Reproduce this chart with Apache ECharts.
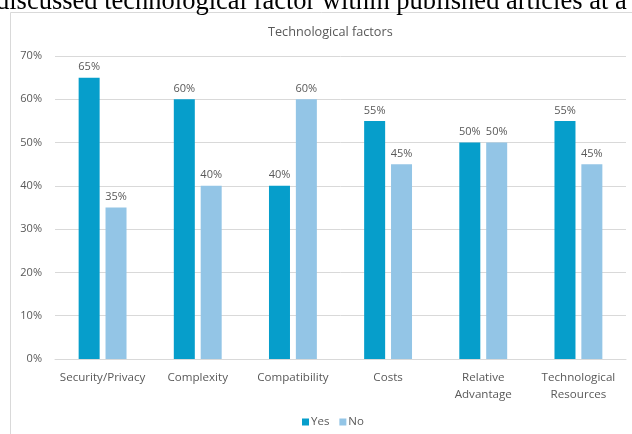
<!DOCTYPE html>
<html><head><meta charset="utf-8">
<script src="https://cdn.jsdelivr.net/npm/echarts@6/dist/echarts.min.js"></script>
<style>html,body{margin:0;padding:0;background:#fff}#c{width:632px;height:434px}</style>
</head><body><div id="c"></div>
<script>
const categories = ['Security/Privacy','Complexity','Compatibility','Costs','Relative\nAdvantage','Technological\nResources'];
const yesValues = [65,60,40,55,50,55];
const noValues = [35,40,60,45,50,45];
const yTicks = [0,10,20,30,40,50,60,70];
const chartTitle = 'Technological factors';
const captionText = 'discussed technological factor within published articles at a';

const chart = echarts.init(document.getElementById('c'), null, {renderer:'canvas'});
const font = 'Open Sans';
chart.setOption({
  animation:false,
  backgroundColor:'#fff',
  graphic:[
    {type:'rect', shape:{x:10.5,y:12.5,width:640,height:440}, style:{fill:'none',stroke:'#d9d9d9',lineWidth:1}, z:-1},
    {type:'text', left:-4, top:-11, style:{text:captionText, font:'26.5px "Liberation Serif"', fill:'#000'}}
  ],
  title:{text:chartTitle, left:263, top:21, textStyle:{fontFamily:font, fontSize:12.7, fontWeight:'normal', color:'#595959'}},
  legend:{bottom:1, left:297, itemWidth:7, itemHeight:7, itemGap:10, icon:'rect',
    textStyle:{fontFamily:font, fontSize:11.5, color:'#595959', padding:[0,0,0,-3]}, data:['Yes','No']},
  grid:{left:55, right:6, top:56, bottom:75},
  xAxis:{type:'category', data:categories,
    axisLine:{lineStyle:{color:'#d9d9d9'}}, axisTick:{show:false},
    axisLabel:{fontFamily:font, fontSize:11.6, color:'#595959', margin:10, lineHeight:17, interval:0}},
  yAxis:{type:'value', min:0, max:70, interval:10,
    axisLabel:{fontFamily:font, fontSize:11, color:'#595959', formatter:'{value}%', margin:13},
    splitLine:{lineStyle:{color:'#d9d9d9'}}, axisLine:{show:false}, axisTick:{show:false}},
  series:[
    {name:'Yes', type:'bar', data:yesValues, barWidth:21, barGap:'28%', itemStyle:{color:'#069ECB'},
     label:{show:true, position:'top', distance:5, formatter:'{c}%', fontFamily:font, fontSize:11, color:'#595959'}},
    {name:'No', type:'bar', data:noValues, barWidth:21, itemStyle:{color:'#93C5E6'},
     label:{show:true, position:'top', distance:5, formatter:'{c}%', fontFamily:font, fontSize:11, color:'#595959'}}
  ]
});
</script></body></html>
